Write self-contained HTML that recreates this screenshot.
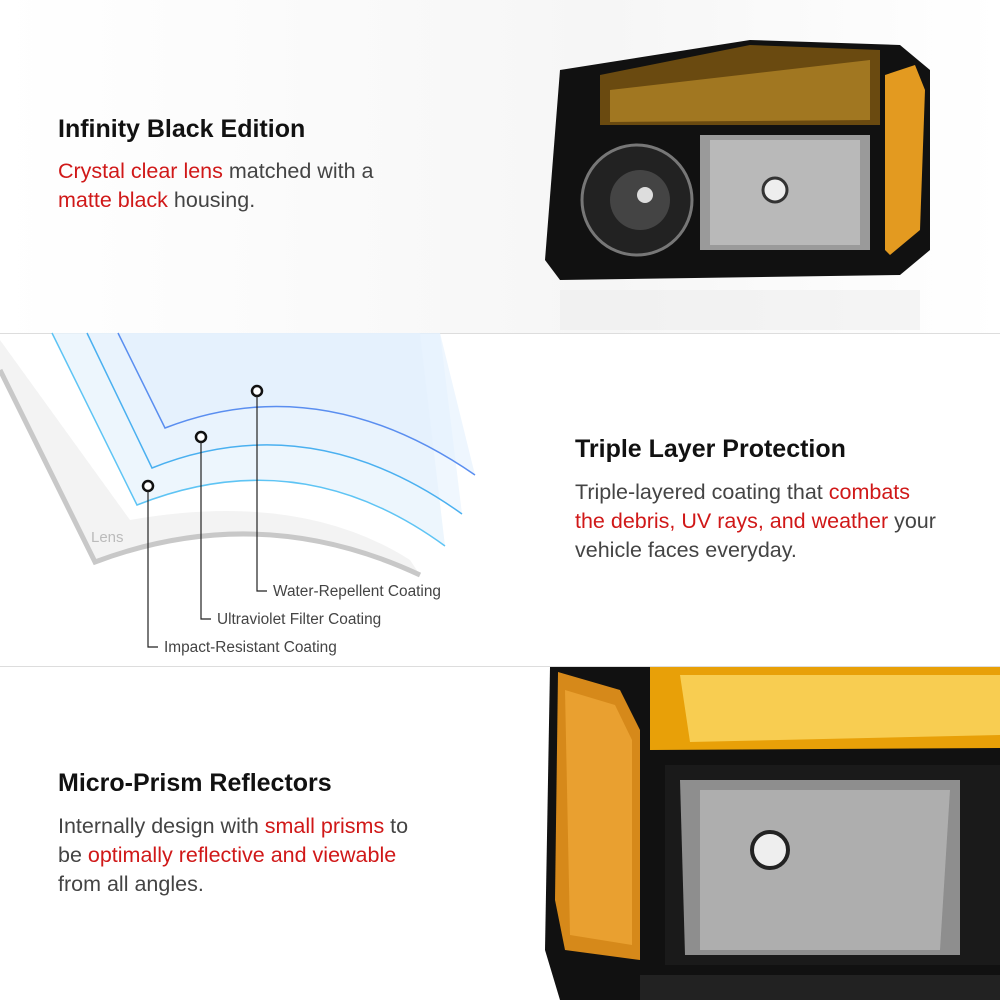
<!DOCTYPE html>
<html><head><style>
body{margin:0;width:1000px;height:1000px;position:relative;overflow:hidden;background:#fff;font-family:"Liberation Sans",sans-serif}
.t{position:absolute;font-size:25px;font-weight:bold;color:#111}
.p{position:absolute;font-size:21.5px;line-height:29px;color:#444}
.r{color:#d01818}
</style></head><body>
<div style="position:absolute;left:0;top:0;width:1000px;height:333px;background:linear-gradient(90deg,#fff,#f6f6f6 60%,#fff)"></div>
<div style="position:absolute;left:0;top:333px;width:1000px;height:1px;background:#ddd"></div>
<div style="position:absolute;left:0;top:666px;width:1000px;height:1px;background:#ddd"></div>

<div class="t" style="left:58px;top:115px">Infinity Black Edition</div>
<div class="p" style="left:58px;top:157px"><span class="r">Crystal clear lens</span> matched with a<br><span class="r">matte black</span> housing.</div>

<div class="t" style="left:575px;top:435px">Triple Layer Protection</div>
<div class="p" style="left:575px;top:478px">Triple-layered coating that <span class="r">combats<br>the debris, UV rays, and weather</span> your<br>vehicle faces everyday.</div>

<div class="t" style="left:58px;top:769px">Micro-Prism Reflectors</div>
<div class="p" style="left:58px;top:812px">Internally design with <span class="r">small prisms</span> to<br>be <span class="r">optimally reflective and viewable</span><br>from all angles.</div>

<svg width="1000" height="1000" style="position:absolute;left:0;top:0">
<!-- top headlight -->
<path d="M560,70 L750,40 L900,45 L930,70 L930,250 L900,275 L560,280 L545,260 Z" fill="#111"/>
<path d="M600,75 L750,45 L880,50 L880,125 L600,125 Z" fill="#6a4a10"/>
<path d="M610,90 L870,60 L870,120 L610,122 Z" fill="#b98a2a" opacity=".7"/>
<path d="M885,75 L915,65 L925,90 L920,230 L890,255 L885,250 Z" fill="#e39a20"/>
<circle cx="637" cy="200" r="55" fill="#222" stroke="#777" stroke-width="3"/>
<circle cx="640" cy="200" r="30" fill="#444"/>
<circle cx="645" cy="195" r="8" fill="#ddd"/>
<rect x="700" y="135" width="170" height="115" fill="#9a9a9a"/>
<path d="M710,140 L860,140 L860,245 L710,245Z" fill="#cfcfcf" opacity=".6"/>
<circle cx="775" cy="190" r="12" fill="#eee" stroke="#333" stroke-width="3"/>
<rect x="560" y="290" width="360" height="40" fill="#ececec" opacity=".5"/>

<!-- diagram -->
<path d="M0,370 L95,562 Q260,500 420,575 L410,560 Q300,490 130,520 L0,340Z" fill="#f3f3f3"/>
<path d="M0,370 L95,562 Q260,500 420,575" fill="none" stroke="#c8c8c8" stroke-width="5"/>
<path d="M52,333 L137,505 Q300,440 445,546 L420,333Z" fill="#e8f4fc" opacity=".8"/>
<path d="M87,333 L152,468 Q310,405 462,514 L440,333Z" fill="#e6f2fd" opacity=".6"/>
<path d="M118,333 L165,428 Q320,368 475,475 L440,333Z" fill="#e3f0fd" opacity=".6"/>
<path d="M52,333 L137,505 Q300,440 445,546" fill="none" stroke="#5ec4f4" stroke-width="1.5"/>
<path d="M87,333 L152,468 Q310,405 462,514" fill="none" stroke="#4ab0f0" stroke-width="1.5"/>
<path d="M118,333 L165,428 Q320,368 475,475" fill="none" stroke="#5a8ef0" stroke-width="1.5"/>
<text x="91" y="542" font-size="15" fill="#bbb" font-family="Liberation Sans">Lens</text>
<g fill="#fff" stroke="#111" stroke-width="2.5"><circle cx="148" cy="486" r="5"/><circle cx="201" cy="437" r="5"/><circle cx="257" cy="391" r="5"/></g>
<g fill="none" stroke="#222" stroke-width="1.2">
<path d="M148,491 V647 H158"/><path d="M201,442 V619 H211"/><path d="M257,396 V591 H267"/></g>
<g font-family="Liberation Sans" font-size="15.4" fill="#444">
<text x="164" y="652">Impact-Resistant Coating</text>
<text x="217" y="624">Ultraviolet Filter Coating</text>
<text x="273" y="596">Water-Repellent Coating</text></g>

<!-- bottom headlight -->
<path d="M550,667 L1000,667 L1000,1000 L560,1000 L545,950 Z" fill="#111"/>
<path d="M558,672 L620,690 L640,730 L640,960 L565,950 L555,900Z" fill="#d6891a"/>
<path d="M565,690 L615,705 L632,740 L632,945 L570,935Z" fill="#e9a030"/>
<path d="M650,667 L1000,667 L1000,748 L650,750 Z" fill="#e8a008"/>
<path d="M680,675 L1000,675 L1000,735 L690,742Z" fill="#ffe070" opacity=".7"/>
<rect x="665" y="765" width="335" height="200" fill="#1a1a1a"/>
<path d="M680,780 L960,780 L960,955 L685,955Z" fill="#8e8e8e"/>
<path d="M700,790 L950,790 L940,950 L700,950Z" fill="#c9c9c9" opacity=".55"/>
<circle cx="770" cy="850" r="18" fill="#eee" stroke="#222" stroke-width="4"/>
<rect x="640" y="975" width="360" height="25" fill="#222"/>
</svg>
</body></html>
